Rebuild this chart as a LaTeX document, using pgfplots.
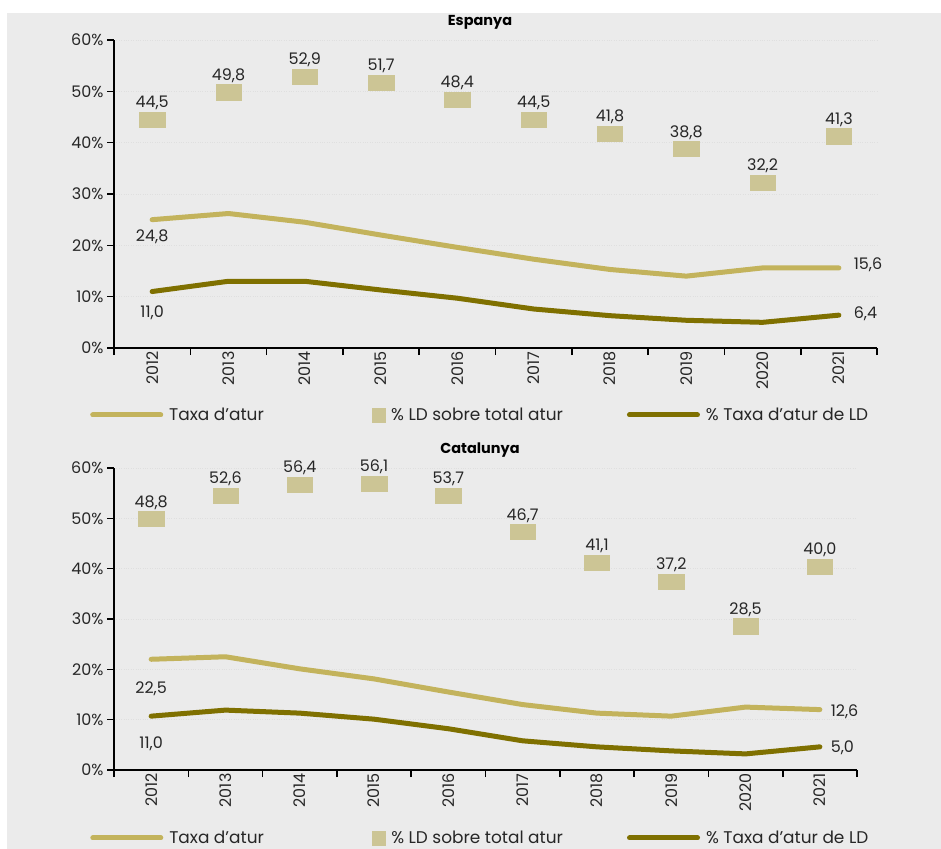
\documentclass[border=0pt]{standalone}
\usepackage{pgfplots}
\pgfplotsset{compat=1.18}
\usepackage{pgfplotstable}
\usepackage{fontspec}
\setmainfont{Poppins}
\definecolor{bg}{HTML}{EBEBEB}
\definecolor{lite}{HTML}{C3B35C}
\definecolor{dark}{HTML}{7F7000}
\definecolor{sq}{HTML}{CCC595}

\pgfplotstableread{
x lab y
0 44,5 44.5
1 49,8 49.8
2 52,9 52.9
3 51,7 51.7
4 48,4 48.4
5 44,5 44.5
6 41,8 41.8
7 38,8 38.8
8 32,2 32.2
9 41,3 41.3
}\esLD
\pgfplotstableread{
x lab y
0 48,8 49.9
1 52,6 54.5
2 56,4 56.7
3 56,1 56.9
4 53,7 54.5
5 46,7 47.3
6 41,1 41.2
7 37,2 37.4
8 28,5 28.6
9 40,0 40.4
}\caLD

\tikzset{lbl/.style={font=\fontsize{16}{18}\selectfont, text=black!85}}
\pgfplotsset{
 panel/.style={
  scale only axis,
  xmin=-0.5,xmax=9.5,ymin=0,ymax=60,
  axis x line*=bottom, axis y line*=left,
  axis line style={-, line width=1.6bp, black},
  ytick={0,10,...,60},
  yticklabel={\pgfmathprintnumber{\tick}\%},
  /pgf/number format/assume math mode=true,
  xtick={-0.5,0.5,...,9.5}, xticklabels={},
  extra x ticks={0,1,...,9},
  extra x tick labels={2012,2013,2014,2015,2016,2017,2018,2019,2020,2021},
  extra x tick style={major tick length=0pt, tick label style={rotate=90, anchor=east, font=\fontsize{16}{18}\selectfont}},
  tick align=outside, major tick length=7bp,
  tick style={black, line width=1.6bp},
  ymajorgrids, grid style={dotted, line width=0.6bp, gray!25},
  tick label style={font=\fontsize{16}{18}\selectfont, text=black!85},
  clip=false,
  legend columns=3,
  legend style={draw=none, fill=none, font=\fontsize{17}{19}\selectfont, text=black!85,
    /tikz/column 2/.style={column sep=106bp},
    /tikz/column 4/.style={column sep=62bp},
    /tikz/every odd column/.append style={column sep=4bp}},
 },
 linelegend/.style={legend image code/.code={\draw[##1, line cap=round] (0bp,0bp) -- (68bp,0bp);}},
 sqlegend/.style={legend image code/.code={\fill[sq] (0bp,-7bp) rectangle (13bp,7bp);}},
 sqstyle/.style={sq, only marks, mark=square*, mark size=7.7bp,
   mark options={xscale=1.65, draw=sq, fill=sq},
   nodes near coords, point meta=explicit symbolic,
   nodes near coords style={anchor=south, yshift=6bp, text=black!85, font=\fontsize{16}{18}\selectfont}},
}

\begin{document}
\begin{tikzpicture}
\useasboundingbox (0bp,0bp) rectangle (941bp,-849bp);
\fill[bg] (7bp,-13bp) rectangle (941bp,-849bp);
\node[font=\bfseries\fontsize{14.5}{16}\selectfont] at (480bp,-22bp) {Espanya};
\node[font=\bfseries\fontsize{14.5}{16}\selectfont] at (480bp,-450bp) {Catalunya};

\begin{axis}[panel, at={(114bp,-348bp)}, anchor=south west, width=763bp, height=308bp,
  legend style={at={(0.480,-0.2175)}, anchor=center}]
\addplot[lite, line width=5bp, line cap=round, line join=round, linelegend] coordinates {
(0,25.0) (1,26.2) (2,24.5) (3,22.0) (4,19.6) (5,17.3) (6,15.3) (7,14.0) (8,15.6) (9,15.6)};
\addlegendentry{Taxa d’atur}
\addplot[sqstyle, sqlegend] table[x=x, y=y, meta=lab] {\esLD};
\addlegendentry{\% LD sobre total atur}
\addplot[dark, line width=5bp, line cap=round, line join=round, linelegend] coordinates {
(0,11.0) (1,13.0) (2,13.0) (3,11.3) (4,9.7) (5,7.6) (6,6.3) (7,5.4) (8,5.0) (9,6.4)};
\addlegendentry{\% Taxa d’atur de LD}
\node[lbl, below] at (axis cs:0,23.8) {24,8};
\node[lbl, below] at (axis cs:0,9.0) {11,0};
\node[lbl, right] at (axis cs:9.15,16.2) {15,6};
\node[lbl, right] at (axis cs:9.15,6.7) {6,4};
\end{axis}

\begin{axis}[panel, at={(114bp,-770bp)}, anchor=south west, width=743bp, height=302bp,
  legend style={at={(0.493,-0.225)}, anchor=center}]
\addplot[lite, line width=5bp, line cap=round, line join=round, linelegend] coordinates {
(0,22.0) (1,22.5) (2,20.1) (3,18.1) (4,15.5) (5,13.0) (6,11.3) (7,10.7) (8,12.5) (9,12.0)};
\addlegendentry{Taxa d’atur}
\addplot[sqstyle, sqlegend] table[x=x, y=y, meta=lab] {\caLD};
\addlegendentry{\% LD sobre total atur}
\addplot[dark, line width=5bp, line cap=round, line join=round, linelegend] coordinates {
(0,10.7) (1,11.9) (2,11.3) (3,10.1) (4,8.2) (5,5.8) (6,4.6) (7,3.8) (8,3.2) (9,4.6)};
\addlegendentry{\% Taxa d’atur de LD}
\node[lbl, below] at (axis cs:0,18.3) {22,5};
\node[lbl, below] at (axis cs:0,7.3) {11,0};
\node[lbl, right] at (axis cs:9.1,11.5) {12,6};
\node[lbl, right] at (axis cs:9.1,4.5) {5,0};
\end{axis}
\end{tikzpicture}
\end{document}
